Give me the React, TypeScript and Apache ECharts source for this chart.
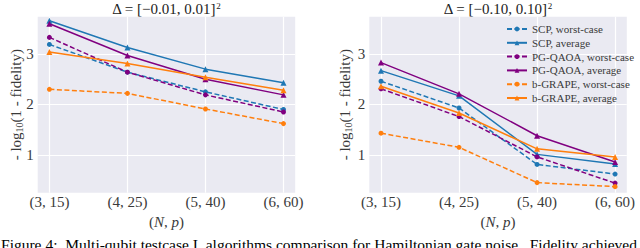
import React, { useEffect, useRef } from "react";
import * as echarts from "echarts";

const categories = ["(3, 15)", "(4, 25)", "(5, 40)", "(6, 60)"];
const yTicks = [1, 2, 3];

// Left panel: Δ = [-0.01, 0.01]^2
const scpWorstA = [3.19, 2.64, 2.25, 1.9];
const scpAvgA = [3.66, 3.13, 2.7, 2.43];
const pgWorstA = [3.33, 2.64, 2.19, 1.85];
const pgAvgA = [3.6, 2.97, 2.5, 2.19];
const bgWorstA = [2.3, 2.22, 1.91, 1.62];
const bgAvgA = [3.04, 2.81, 2.54, 2.28];

// Right panel: Δ = [-0.10, 0.10]^2
const scpWorstB = [2.46, 1.93, 0.81, 0.62];
const scpAvgB = [2.67, 2.17, 1.01, 0.82];
const pgWorstB = [2.31, 1.76, 0.96, 0.44];
const pgAvgB = [2.83, 2.21, 1.38, 0.86];
const bgWorstB = [1.43, 1.15, 0.45, 0.37];
const bgAvgB = [2.36, 1.83, 1.12, 0.96];

const CAPTION = "Figure 4:  Multi-qubit testcase I, algorithms comparison for Hamiltonian gate noise.  Fidelity achieved";

const BLUE = "#1f77b4";
const PURPLE = "#800080";
const ORANGE = "#ff7f0e";
const SERIF = "Liberation Serif";
const TICK_COLOR = "#3a3a3a";

const seriesDefs = [
  { name: "SCP, worst-case", color: BLUE, dashed: true, a: scpWorstA, b: scpWorstB },
  { name: "SCP, average", color: BLUE, dashed: false, a: scpAvgA, b: scpAvgB },
  { name: "PG-QAOA, worst-case", color: PURPLE, dashed: true, a: pgWorstA, b: pgWorstB },
  { name: "PG-QAOA, average", color: PURPLE, dashed: false, a: pgAvgA, b: pgAvgB },
  { name: "b-GRAPE, worst-case", color: ORANGE, dashed: true, a: bgWorstA, b: bgWorstB },
  { name: "b-GRAPE, average", color: ORANGE, dashed: false, a: bgAvgA, b: bgAvgB },
];

let measureCtx: CanvasRenderingContext2D | null = null;
function textWidth(text: string, size: number, italic = false) {
  if (!measureCtx) measureCtx = document.createElement("canvas").getContext("2d");
  if (!measureCtx) return text.length * size * 0.5;
  measureCtx.font = `${italic ? "italic " : ""}${size}px "${SERIF}", serif`;
  return measureCtx.measureText(text).width;
}

type Piece = { t: string; size: number; italic?: boolean; dy?: number };

function pieceGroup(list: Piece[], cx: number, cy: number, color: string, rotation = 0) {
  const widths = list.map((p) => textWidth(p.t, p.size, p.italic));
  const total = widths.reduce((a, b) => a + b, 0);
  let x = -total / 2;
  const children = list.map((p, i) => {
    const el = {
      type: "text",
      x,
      y: p.dy ?? 0,
      style: {
        text: p.t,
        fontFamily: SERIF,
        fontSize: p.size,
        fontStyle: p.italic ? "italic" : "normal",
        fill: color,
        align: "left",
        verticalAlign: "middle",
      },
    };
    x += widths[i];
    return el;
  });
  return { type: "group", x: cx, y: cy, rotation, children };
}

function makeSeries(def: any, vals: number[], idx: number) {
  return {
    type: "line",
    name: def.name,
    xAxisIndex: idx,
    yAxisIndex: idx,
    data: vals.map((v, i) => [i, v]),
    symbol: def.dashed ? "circle" : "triangle",
    symbolSize: def.dashed ? 5 : 6,
    showSymbol: true,
    itemStyle: { color: def.color },
    lineStyle: { color: def.color, width: 1.5, type: def.dashed ? [5, 2.5] : "solid" },
    z: 3,
  };
}

const PLOT_TOP = 16.7;
const PLOT_H = 176;
const LEFT_A = 37.7;
const LEFT_B = 369.3;
const PLOT_W = 257.5;

function xAxis(idx: number) {
  return {
    type: "value",
    gridIndex: idx,
    min: -0.15,
    max: 3.15,
    axisLine: { show: false },
    axisTick: { show: false, customValues: [0, 1, 2, 3] },
    splitLine: { show: true, lineStyle: { color: "#ffffff", width: 1.2 } },
    axisLabel: {
      customValues: [0, 1, 2, 3],
      formatter: (v: number) => categories[Math.round(v)] ?? "",
      color: TICK_COLOR,
      fontFamily: SERIF,
      fontSize: 15,
      margin: 2,
    },
  };
}

function yAxis(idx: number) {
  return {
    type: "value",
    gridIndex: idx,
    min: 0.25,
    max: 3.74,
    axisLine: { show: false },
    axisTick: { show: false, customValues: yTicks },
    splitLine: { show: true, lineStyle: { color: "#ffffff", width: 1.2 } },
    axisLabel: {
      customValues: yTicks,
      color: TICK_COLOR,
      fontFamily: SERIF,
      fontSize: 15,
      margin: 4,
    },
  };
}

function titleGroup(cx: number, label: string) {
  return pieceGroup(
    [
      { t: `Δ = [−${label}, ${label}]`, size: 15 },
      { t: "2", size: 9, dy: -3 },
    ],
    cx,
    9,
    "#222"
  );
}

function yLabelGroup(cx: number) {
  return pieceGroup(
    [
      { t: "- log", size: 15 },
      { t: "10", size: 10, dy: 3.5 },
      { t: "(1 - fidelity)", size: 15 },
    ],
    cx,
    PLOT_TOP + PLOT_H / 2,
    TICK_COLOR,
    Math.PI / 2
  );
}

function xLabelGroup(cx: number) {
  return pieceGroup(
    [
      { t: "(", size: 15 },
      { t: "N", size: 15, italic: true },
      { t: ", ", size: 15 },
      { t: "p", size: 15, italic: true },
      { t: ")", size: 15 },
    ],
    cx,
    221.5,
    TICK_COLOR
  );
}

export default function App() {
  const ref = useRef<HTMLDivElement>(null);
  useEffect(() => {
    if (!ref.current) return;
    const chart = echarts.init(ref.current, undefined, { renderer: "svg" });
    const series: any[] = [];
    seriesDefs.forEach((d) => series.push(makeSeries(d, d.a, 0)));
    seriesDefs.forEach((d) => series.push(makeSeries(d, d.b, 1)));
    const capSize = Math.min(17, (17 * 637) / textWidth(CAPTION, 17));
    chart.setOption({
      animation: false,
      backgroundColor: "#ffffff",
      textStyle: { fontFamily: SERIF },
      grid: [
        { left: LEFT_A, top: PLOT_TOP, width: PLOT_W, height: PLOT_H, show: true, backgroundColor: "#EAEAF2", borderWidth: 0 },
        { left: LEFT_B, top: PLOT_TOP, width: PLOT_W, height: PLOT_H, show: true, backgroundColor: "#EAEAF2", borderWidth: 0 },
      ],
      xAxis: [xAxis(0), xAxis(1)],
      yAxis: [yAxis(0), yAxis(1)],
      legend: {
        orient: "vertical",
        left: 501,
        top: 18.5,
        itemWidth: 20,
        itemHeight: 6,
        itemGap: 2.8,
        data: seriesDefs.map((d) => d.name),
        textStyle: { fontFamily: SERIF, fontSize: 11, color: "#3a3a3a" },
      },
      graphic: [
        titleGroup(LEFT_A + PLOT_W / 2, "0.01"),
        titleGroup(LEFT_B + PLOT_W / 2, "0.10"),
        yLabelGroup(15.5),
        yLabelGroup(345),
        xLabelGroup(LEFT_A + PLOT_W / 2),
        xLabelGroup(LEFT_B + PLOT_W / 2),
        {
          type: "text",
          x: 1,
          y: 236,
          style: {
            text: CAPTION,
            fontFamily: SERIF,
            fontSize: capSize,
            fill: "#000",
            align: "left",
            verticalAlign: "top",
          },
        },
      ],
      series,
    });
    return () => chart.dispose();
  }, []);
  return <div ref={ref} style={{ position: "absolute", left: 0, top: 0, width: 640, height: 248 }} />;
}
